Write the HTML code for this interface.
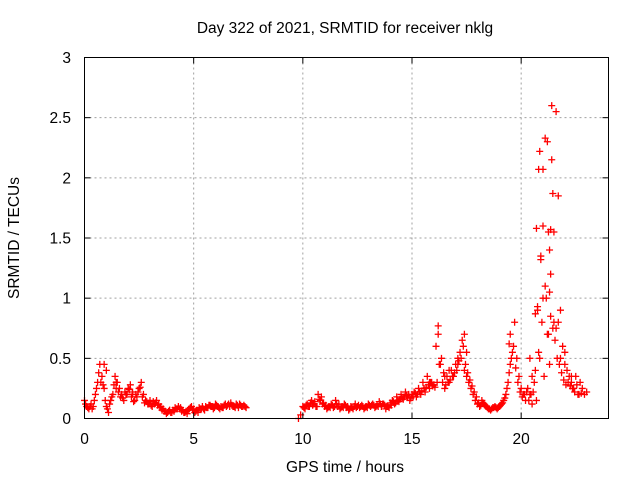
<!DOCTYPE html>
<html><head><meta charset="utf-8"><style>
body{margin:0;background:#fff}
svg{display:block;font-family:"Liberation Sans",sans-serif}
</style></head><body>
<svg id="c" width="640" height="480" viewBox="0 0 640 480" xmlns="http://www.w3.org/2000/svg">
<rect width="640" height="480" fill="#fff"/>
<text x="345" y="33" font-size="15.5" text-anchor="middle">Day 322 of 2021, SRMTID for receiver nklg</text>
<text x="345" y="472" font-size="15.5" text-anchor="middle">GPS time / hours</text>
<text transform="translate(19,238) rotate(-90)" font-size="15.5" text-anchor="middle">SRMTID / TECUs</text>
<g id="grid"></g><g id="pts"></g><g id="axes"></g>
</svg>
<script>
const xTicks=[0,5,10,15,20];
const yTicks=[0,0.5,1,1.5,2,2.5,3];
const yTickLabels=["0","0.5","1","1.5","2","2.5","3"];
const segStarts=[0,9.8,0.05,10.05];
const segStep=0.1;
const seg1=[0.15,0.1,0.08,0.12,0.1,0.2,0.3,0.45,0.35,0.25,0.1,0.05,0.15,0.2,0.35,0.3,0.25,0.2,0.15,0.2,0.25,0.28,0.2,0.15,0.18,0.25,0.3,0.2,0.15,0.12,0.15,0.1,0.12,0.15,0.12,0.1,0.08,0.06,0.05,0.07,0.05,0.06,0.08,0.1,0.09,0.07,0.05,0.04,0.08,0.1,0.08,0.06,0.05,0.08,0.1,0.07,0.09,0.11,0.1,0.08,0.12,0.1,0.08,0.09,0.11,0.1,0.12,0.13,0.1,0.09,0.11,0.12,0.1,0.11,0.09];
const seg2=[0.0,0.03,0.1,0.08,0.12,0.1,0.15,0.12,0.1,0.2,0.15,0.12,0.1,0.08,0.1,0.12,0.09,0.15,0.1,0.08,0.1,0.12,0.09,0.07,0.1,0.08,0.12,0.1,0.09,0.11,0.08,0.1,0.12,0.1,0.12,0.09,0.11,0.14,0.1,0.12,0.08,0.1,0.13,0.15,0.12,0.18,0.14,0.2,0.16,0.22,0.18,0.15,0.2,0.22,0.18,0.25,0.2,0.3,0.22,0.35,0.25,0.3,0.28,0.6,0.77,0.45,0.3,0.25,0.35,0.3,0.4,0.35,0.45,0.5,0.55,0.65,0.4,0.35,0.3,0.25,0.2,0.15,0.12,0.1,0.15,0.12,0.1,0.08,0.07,0.09,0.1,0.08,0.1,0.12,0.15,0.2,0.3,0.45,0.55,0.8,0.5,0.35,0.25,0.2,0.15,0.25,0.2,0.12,0.3,0.15,0.55,1.35,1.6,1.1,2.3,0.45,2.6,1.55,2.55,1.85,0.9,0.6,0.55,0.4,0.35,0.3,0.25,0.35,0.2,0.3,0.25,0.2,0.22];
const seg1b=[0.12,0.09,0.1,0.08,0.15,0.25,0.38,0.3,0.28,0.15,0.08,0.12,0.18,0.28,0.25,0.22,0.18,0.17,0.22,0.2,0.24,0.18,0.14,0.2,0.22,0.26,0.18,0.13,0.14,0.12,0.11,0.14,0.13,0.11,0.09,0.07,0.06,0.04,0.06,0.05,0.07,0.09,0.08,0.08,0.06,0.05,0.06,0.07,0.09,0.07,0.05,0.07,0.09,0.08,0.08,0.1,0.09,0.11,0.1,0.09,0.11,0.09,0.1,0.09,0.12,0.11,0.1,0.11,0.1,0.12,0.09,0.11,0.1,0.1];
const seg2b=[0.09,0.11,0.1,0.13,0.11,0.14,0.1,0.16,0.18,0.13,0.11,0.09,0.09,0.11,0.1,0.12,0.12,0.09,0.09,0.11,0.1,0.08,0.09,0.1,0.09,0.11,0.1,0.1,0.09,0.09,0.11,0.11,0.11,0.1,0.1,0.12,0.12,0.11,0.1,0.09,0.11,0.14,0.13,0.15,0.16,0.17,0.18,0.19,0.2,0.17,0.18,0.21,0.2,0.22,0.23,0.25,0.26,0.28,0.3,0.27,0.26,0.3,0.45,0.5,0.38,0.28,0.3,0.32,0.35,0.38,0.4,0.48,0.5,0.6,0.45,0.38,0.32,0.27,0.22,0.18,0.13,0.11,0.13,0.11,0.09,0.08,0.08,0.09,0.09,0.09,0.11,0.13,0.17,0.25,0.38,0.5,0.6,0.42,0.3,0.22,0.18,0.2,0.22,0.15,0.2,0.22,0.4,0.9,0.5,0.8,0.35,1.0,0.7,0.85,0.75,0.65,0.5,0.45,0.38,0.32,0.28,0.3,0.27,0.25,0.22,0.28,0.2,0.21];
const extraT=[20.7,20.8,20.85,20.9,21.0,21.1,21.25,21.3,21.35,21.3,21.4,21.45,21.35,20.75,20.65,21.5,21.6,21.0,21.2,17.4,17.5,16.2,19.5,19.45,0.9,1.0,1.45,2.2,16.7,17.1,21.7,21.8,22.0,22.3,20.4,20.5,15.8,16.5];
const extraV=[1.58,2.07,2.22,1.32,2.07,2.33,1.55,1.4,1.2,1.05,2.15,1.87,1.57,0.93,0.87,0.8,0.75,1.0,0.7,0.7,0.55,0.7,0.7,0.62,0.45,0.4,0.3,0.22,0.4,0.45,0.8,0.5,0.45,0.35,0.5,0.35,0.3,0.35];
const L=84.5,R=608.5,T=57.5,B=418.5;
const xs=t=>L+(R-L)*t/24, ys=v=>B-(B-T)*v/3;
const NS="http://www.w3.org/2000/svg";
function mk(tag,attrs,parent){const e=document.createElementNS(NS,tag);for(const k in attrs)e.setAttribute(k,attrs[k]);parent.appendChild(e);return e;}
const grid=document.getElementById('grid'),axes=document.getElementById('axes'),pts=document.getElementById('pts');
xTicks.forEach(t=>{const x=xs(t);
 if(t>0){const g=mk('line',{x1:x,x2:x,y1:T,y2:B,stroke:'#a0a0a0','stroke-dasharray':'2,3'},grid);}
 const a=mk('line',{x1:x,x2:x,y1:B,y2:B-6,stroke:'#000'},axes);
 const b=mk('line',{x1:x,x2:x,y1:T,y2:T+6,stroke:'#000'},axes);
 const tx=mk('text',{x:x,y:444,'font-size':15.5,'text-anchor':'middle'},axes);tx.textContent=String(t);
 });
yTicks.forEach((v,i)=>{const y=ys(v);
 if(v>0&&v<3){const g=mk('line',{x1:L,x2:R,y1:y,y2:y,stroke:'#a0a0a0','stroke-dasharray':'2,3'},grid);}
 const a=mk('line',{x1:L,x2:L+6,y1:y,y2:y,stroke:'#000'},axes);
 const b=mk('line',{x1:R,x2:R-6,y1:y,y2:y,stroke:'#000'},axes);
 const tx=mk('text',{x:71,y:y+5.5,'font-size':15.5,'text-anchor':'end'},axes);tx.textContent=yTickLabels[i];
 });
const fr=mk('rect',{x:L,y:T,width:R-L,height:B-T,fill:'none',stroke:'#000'},axes);

function plus(t,v){const x=xs(t),y=ys(v);
 const p=mk('path',{d:`M${x-3.5},${y}h7M${x},${y-3.5}v7`,stroke:'#f00','stroke-width':1.3,fill:'none'},pts);
 }
[seg1,seg2,seg1b,seg2b].forEach((s,k)=>s.forEach((v,i)=>plus(segStarts[k]+i*segStep,v)));
extraT.forEach((t,i)=>plus(t,extraV[i]));
</script>
</body></html>
